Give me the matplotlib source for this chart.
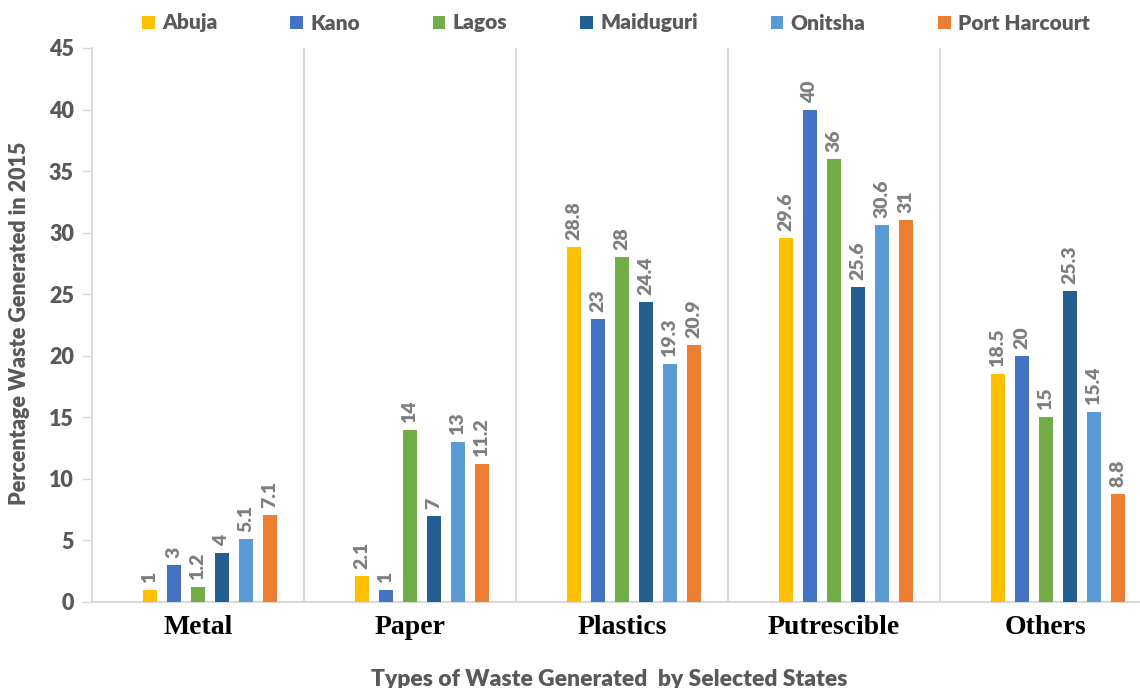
import matplotlib
matplotlib.use("Agg")
import matplotlib.pyplot as plt
import numpy as np
from matplotlib.patches import Patch

categories = ["Metal", "Paper", "Plastics", "Putrescible", "Others"]
series_names = ["Abuja", "Kano", "Lagos", "Maiduguri", "Onitsha", "Port Harcourt"]
abuja = [1, 2.1, 28.8, 29.6, 18.5]
kano = [3, 1, 23, 40, 20]
lagos = [1.2, 14, 28, 36, 15]
maiduguri = [4, 7, 24.4, 25.6, 25.3]
onitsha = [5.1, 13, 19.3, 30.6, 15.4]
port_harcourt = [7.1, 11.2, 20.9, 31, 8.8]
series_values = [abuja, kano, lagos, maiduguri, onitsha, port_harcourt]
colors = ["#FFC000", "#4472C4", "#70AD47", "#255E91", "#5B9BD5", "#ED7D31"]
yticks = [0, 5, 10, 15, 20, 25, 30, 35, 40, 45]

SANS = ["Lato", "DejaVu Sans"]
SERIF = ["Liberation Serif", "DejaVu Serif"]
W = "heavy"
GRAY = "#595959"
LABEL_GRAY = "#7F7F7F"
LINE = "#D9D9D9"

fig = plt.figure(figsize=(11.4, 6.88), dpi=100)
ax = fig.add_axes([92/1140, 86/688, 1060/1140, 554/688])

x = np.arange(len(categories))
slot = 24/212
width = 0.062
for i, (name, vals, c) in enumerate(zip(series_names, series_values, colors)):
    pos = x + (i - 2) * slot
    ax.bar(pos, vals, width=width, color=c, label=name, zorder=3)
    for p, v in zip(pos, vals):
        ax.annotate(f"{v:g}", xy=(p, v), xytext=(0, 5), textcoords="offset points",
                    rotation=90, ha="center", va="bottom", fontsize=14,
                    fontweight=W, color=LABEL_GRAY, family=SANS)

ax.set_xlim(-0.5, len(categories) - 0.5)
ax.set_ylim(0, 45)
ax.set_yticks(yticks)
ax.set_yticklabels([str(t) for t in yticks], fontsize=15.5, fontweight=W,
                   color=GRAY, family=SANS)
ax.set_xticks(x)
ax.set_xticklabels(categories, fontsize=20, fontweight="bold", color="black",
                   family=SERIF)
ax.tick_params(axis="x", length=0, pad=9)
ax.tick_params(axis="y", length=7, width=1, color=LINE, pad=6)

for b in np.arange(0.5, len(categories), 1.0):
    ax.axvline(b, color=LINE, lw=1.5, zorder=1)

for s in ["top", "right"]:
    ax.spines[s].set_visible(False)
ax.spines["left"].set_color(LINE)
ax.spines["left"].set_linewidth(1.5)
ax.spines["bottom"].set_color(LINE)
ax.spines["bottom"].set_linewidth(1.5)

fig.text(20/1140, 1 - 323/688, "Percentage Waste Generated in 2015", rotation=90,
         ha="center", va="center", fontsize=15.5, fontweight=W, color=GRAY,
         family=SANS)
fig.text(609/1140, 1 - 679/688, "Types of Waste Generated  by Selected States",
         ha="center", va="center", fontsize=16.5, fontweight=W, color=GRAY,
         family=SANS)

handles = [Patch(facecolor=c, edgecolor="none") for c in colors]
leg = fig.legend(handles, series_names, loc="center", bbox_to_anchor=(616/1140, 1 - 23/688),
                 ncol=6, frameon=False, handlelength=0.6, handleheight=0.6,
                 handletextpad=0.35, columnspacing=3.5,
                 prop={"family": SANS, "weight": W, "size": 15})
for t in leg.get_texts():
    t.set_color(GRAY)

fig.savefig("out.png", dpi=100)
